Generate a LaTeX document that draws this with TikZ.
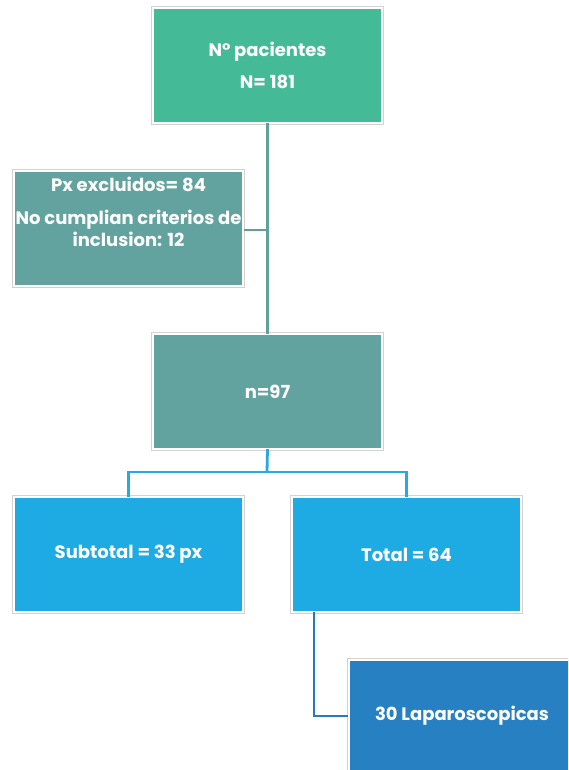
\documentclass[tikz,border=0pt]{standalone}
\usepackage{fontspec}
\setmainfont{Poppins}
\definecolor{cgreen}{RGB}{68,187,150}
\definecolor{cteal}{RGB}{98,163,159}
\definecolor{clblue}{RGB}{30,171,227}
\definecolor{cdblue}{RGB}{38,128,194}
\definecolor{lteal}{RGB}{96,160,156}
\definecolor{lblue}{RGB}{43,168,224}
\definecolor{ldblue}{RGB}{40,122,192}
\begin{document}
\begin{tikzpicture}[x=1pt,y=-1pt,
  box/.style={rectangle, draw=white, line width=1.2pt, minimum width=229pt, minimum height=114pt, inner sep=0pt, text=white, font=\fontsize{18}{22.5}\selectfont\bfseries, align=center},
  txt/.style={text=white, font=\fontsize{18}{22.5}\selectfont\bfseries, align=center, inner sep=0pt},
  conn/.style={line width=2.8pt}]
\useasboundingbox (0,0) rectangle (568,770);
\begin{scope}
\clip (0,0) rectangle (568,770);
\node[box, fill=cgreen] (top) at (267.5,65.5) {N° pacientes\\[10pt]N= 181};
\node[box, fill=cteal] (excl) at (128.5,228.5) {};
\node[box, fill=cteal] (n) at (267.5,391.5) {n=97};
\node[box, fill=clblue] (sub) at (128.5,554.5) {Subtotal = 33 px};
\node[box, fill=clblue] (tot) at (406.5,554.5) {Total = 64};
\node[box, fill=cdblue, minimum width=226pt, minimum height=112pt] (lap) at (462,716) {30 Laparoscopicas};
\node[txt, anchor=north] (excltxt) at ([yshift=-6pt]excl.north) {Px excluidos= 84\\[10pt]No cumplian criterios de\\inclusion: 12};
\foreach \n in {top,excl,n,sub,tot,lap}
  \draw[gray!35, line width=0.8pt] ([shift={(-1.2pt,1.2pt)}]\n.north west) rectangle ([shift={(1.2pt,-1.2pt)}]\n.south east);
\coordinate (jx) at (267,230);
\draw[conn, lteal] (top.south) -- (n.north);
\draw[conn, lteal] (excl.east |- jx) -- (jx);
\coordinate (bj) at (267,472);
\draw[conn, lblue] (n.south) -- (bj);
\draw[conn, lblue] (sub.north) |- (bj) -| (tot.north);
\draw[conn, ldblue] ([xshift=-92.5pt]tot.south) |- (lap.west);
\end{scope}
\end{tikzpicture}
\end{document}
